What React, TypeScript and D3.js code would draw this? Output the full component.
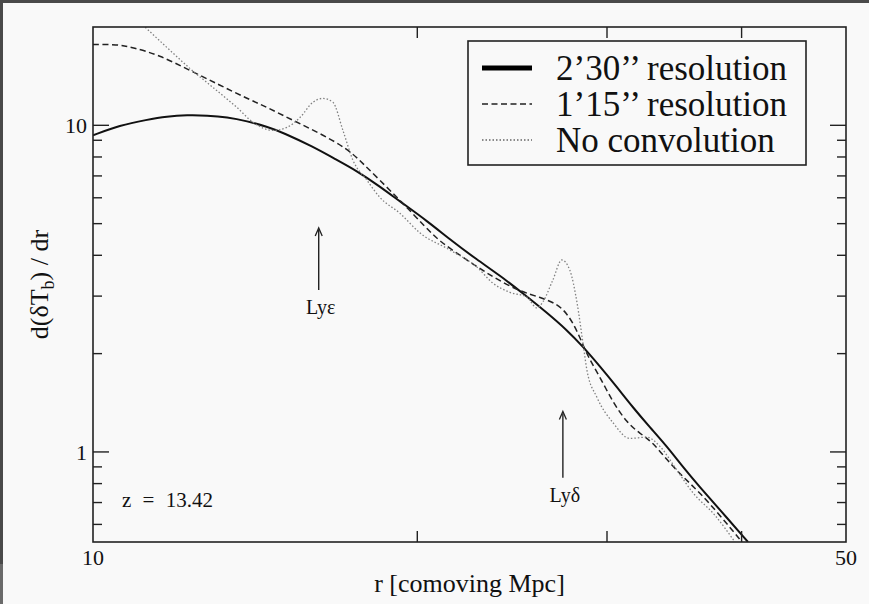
import React from "react";
import * as d3 from "d3";

const W = 869;
const H = 604;

// x in comoving Mpc, y = d(dTb)/dr
const solidX = [10.0, 10.59, 11.22, 11.71, 12.23, 12.76, 13.32, 13.9, 14.51, 15.01, 16.0, 16.7, 17.58, 18.46, 19.27, 20.42, 21.58, 22.72, 23.86, 25.06, 26.38, 27.54, 28.5, 29.54, 30.64, 31.7, 32.88, 34.1, 35.28, 36.59, 38.19, 40.55];
const solidY = [9.32, 10.0, 10.4, 10.65, 10.75, 10.72, 10.6, 10.3, 9.9, 9.5, 8.6, 7.95, 7.25, 6.5, 5.85, 5.1, 4.4, 3.88, 3.47, 3.06, 2.67, 2.36, 2.1, 1.83, 1.58, 1.37, 1.19, 1.04, 0.9, 0.78, 0.665, 0.53];

const dashedX = [10.0, 10.53, 10.89, 11.54, 12.3, 13.12, 13.9, 14.51, 15.33, 16.24, 17.21, 17.8, 18.46, 19.27, 20.33, 20.99, 22.24, 23.5, 24.9, 25.99, 26.95, 27.54, 28.14, 28.74, 29.54, 30.38, 31.3, 32.18, 33.09, 34.1, 35.28, 36.59, 38.19, 40.03];
const dashedY = [17.69, 17.69, 17.32, 16.37, 14.73, 13.26, 12.09, 11.35, 10.36, 9.45, 8.5, 7.65, 6.79, 5.9, 4.9, 4.4, 3.87, 3.43, 3.1, 2.98, 2.84, 2.66, 2.36, 1.98, 1.7, 1.42, 1.23, 1.14, 1.07, 0.945, 0.84, 0.75, 0.64, 0.53];

const dottedX = [11.06, 11.71, 12.3, 12.92, 13.6, 14.08, 14.69, 15.14, 15.57, 16.0, 16.34, 16.7, 17.06, 17.43, 17.96, 18.46, 19.27, 20.12, 21.45, 22.72, 23.5, 24.38, 25.28, 25.82, 26.16, 26.72, 27.24, 27.71, 28.14, 28.5, 28.74, 29.36, 30.38, 31.5, 32.67, 33.59, 34.83, 36.05, 37.78, 39.43];
const dottedY = [20.65, 17.32, 14.94, 13.07, 11.35, 10.21, 9.65, 9.86, 10.58, 11.76, 12.09, 11.76, 9.65, 7.82, 6.79, 6.02, 5.38, 4.68, 4.15, 3.68, 3.29, 3.08, 2.98, 2.76, 2.88, 3.36, 3.87, 3.6, 2.86, 2.15, 1.78, 1.47, 1.23, 1.1, 1.11, 1.04, 0.88, 0.75, 0.64, 0.53];

const xDomain = [10, 50];
const yDomain = [0.53, 20];
const xLabelTicks = [10, 50];
const xMinorTicks = [20, 30, 40];
const yMajorTicks = [1, 10];
const yMinorTicks = [0.6, 0.7, 0.8, 0.9, 2, 3, 4, 5, 6, 7, 8, 9];

const legendLabels = ["2\u201930\u2019\u2019 resolution", "1\u201915\u2019\u2019 resolution", "No convolution"];

const annotations = [
  { label: "Ly\u03b5", x: 16.2, yTip: 4.85, yTail: 3.13 },
  { label: "Ly\u03b4", x: 27.3, yTip: 1.33, yTail: 0.833 },
];

export default function App() {
  const left = 93, right = 846, top = 27, bottom = 542;
  const x = d3.scaleLog().domain(xDomain).range([left, right]);
  const y = d3.scaleLog().domain(yDomain).range([bottom, top]);
  const mk = (curve: any) =>
    d3
      .line<[number, number]>()
      .x((d) => x(d[0]))
      .y((d) => y(d[1]))
      .curve(curve);
  const zip = (a: number[], b: number[]) => a.map((v, i) => [v, b[i]] as [number, number]);

  const font = "'Liberation Serif', 'Times New Roman', serif";
  const series = [
    { d: mk(d3.curveBasis)(zip(solidX, solidY)), stroke: "#111", w: 2, dash: undefined as string | undefined },
    { d: mk(d3.curveBasis)(zip(dashedX, dashedY)), stroke: "#222", w: 1.5, dash: "6,3.5" },
    { d: mk(d3.curveMonotoneX)(zip(dottedX, dottedY)), stroke: "#808080", w: 1.3, dash: "1.5,2" },
  ];
  const legendStyles = [
    { stroke: "#000", w: 5, dash: undefined as string | undefined },
    { stroke: "#222", w: 1.5, dash: "6,3.5" },
    { stroke: "#666", w: 1.3, dash: "1.5,2" },
  ];

  return (
    <div style={{ position: "fixed", left: 0, top: 0, width: W, height: H }}>
      <svg width={W} height={H} style={{ display: "block" }}>
        <rect x={0} y={0} width={W} height={H} fill="#f9f9f9" />
        <rect x={0} y={0} width={W} height={3} fill="#4a4a4a" />
        <rect x={0} y={0} width={3} height={564} fill="#4a4a4a" />
        <rect x={0} y={564} width={3} height={40} fill="#6a6a6a" />
        <defs>
          <clipPath id="plotclip">
            <rect x={left} y={top} width={right - left} height={bottom - top} />
          </clipPath>
        </defs>
        <g clipPath="url(#plotclip)" fill="none">
          {series.map((s, i) => (
            <path key={i} d={s.d || ""} stroke={s.stroke} strokeWidth={s.w} strokeDasharray={s.dash} strokeLinejoin="round" />
          ))}
        </g>
        {/* frame */}
        <rect x={left} y={top} width={right - left} height={bottom - top} fill="none" stroke="#222" strokeWidth={1.6} />
        {/* y ticks */}
        {yMajorTicks.map((t) => (
          <g key={"ym" + t} stroke="#222" strokeWidth={1.4}>
            <line x1={left} x2={left + 16} y1={y(t)} y2={y(t)} />
            <line x1={right} x2={right - 16} y1={y(t)} y2={y(t)} />
          </g>
        ))}
        {yMinorTicks.map((t) => (
          <g key={"yn" + t} stroke="#222" strokeWidth={1.4}>
            <line x1={left} x2={left + 9} y1={y(t)} y2={y(t)} />
            <line x1={right} x2={right - 9} y1={y(t)} y2={y(t)} />
          </g>
        ))}
        {xMinorTicks.map((t) => (
          <g key={"xn" + t} stroke="#222" strokeWidth={1.4}>
            <line x1={x(t)} x2={x(t)} y1={bottom} y2={bottom - 11} />
            <line x1={x(t)} x2={x(t)} y1={top} y2={top + 11} />
          </g>
        ))}
        {/* tick labels */}
        <g fontFamily={font} fontSize={22} fill="#111">
          {yMajorTicks.map((t) => (
            <text key={"yl" + t} x={left - 6} y={y(t)} dy="0.35em" textAnchor="end">
              {t}
            </text>
          ))}
          {xLabelTicks.map((t) => (
            <text key={"xl" + t} x={x(t)} y={bottom + 23} textAnchor="middle">
              {t}
            </text>
          ))}
        </g>
        {/* axis titles */}
        <text x={(left + right) / 2} y={592} textAnchor="middle" fontFamily={font} fontSize={26} fill="#111">
          r [comoving Mpc]
        </text>
        <text transform={`translate(48,${(top + bottom) / 2}) rotate(-90)`} textAnchor="middle" fontFamily={font} fontSize={26} fill="#111">
          d(δT<tspan fontSize={18} dy={6}>b</tspan>
          <tspan dy={-6}>) / dr</tspan>
        </text>
        {/* annotations */}
        {annotations.map((a) => (
          <g key={a.label}>
            <line x1={x(a.x)} x2={x(a.x)} y1={y(a.yTail)} y2={y(a.yTip) + 2} stroke="#222" strokeWidth={1.4} />
            <path d={`M${x(a.x) - 3.5},${y(a.yTip) + 8} L${x(a.x)},${y(a.yTip)} L${x(a.x) + 3.5},${y(a.yTip) + 8}`} fill="none" stroke="#222" strokeWidth={1.3} />
            <text x={x(a.x) + 2} y={y(a.yTail) + 24} textAnchor="middle" fontFamily={font} fontSize={20} fill="#111">
              {a.label}
            </text>
          </g>
        ))}
        <text x={122} y={507} fontFamily={font} fontSize={21} wordSpacing={6} fill="#111">
          z = 13.42
        </text>
        {/* legend */}
        <rect x={468} y={41} width={338} height={124} fill="#f9f9f9" stroke="#222" strokeWidth={1.6} />
        {legendLabels.map((l, i) => (
          <g key={l}>
            <line x1={482} x2={532} y1={68 + i * 36} y2={68 + i * 36} stroke={legendStyles[i].stroke} strokeWidth={legendStyles[i].w} strokeDasharray={legendStyles[i].dash} />
            <text x={556} y={80 + i * 36} fontFamily={font} fontSize={35} fill="#111">
              {l}
            </text>
          </g>
        ))}
      </svg>
    </div>
  );
}
